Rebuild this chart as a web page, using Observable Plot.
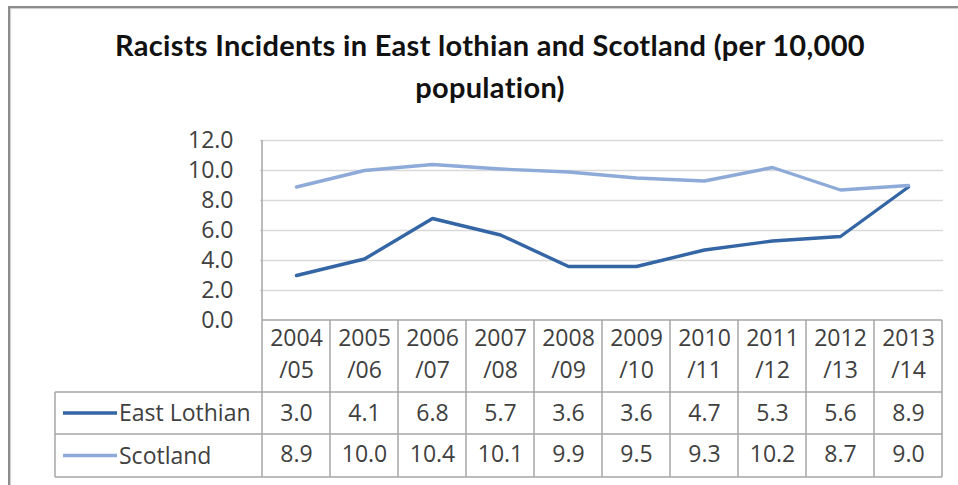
<!DOCTYPE html>
<html>
<head>
<meta charset="utf-8">
<script src="https://cdn.jsdelivr.net/npm/d3@7"></script>
<script src="https://cdn.jsdelivr.net/npm/@observablehq/plot@0.6"></script>
<style>
  html, body { margin: 0; padding: 0; background: #fff; }
  #wrap { position: relative; width: 958px; height: 485px; overflow: hidden; background: #fff; }
  #frame { position: absolute; left: 8px; top: 6px; width: 1200px; height: 1200px;
           border-left: 2px solid #8c8c8c; border-top: 2px solid #8c8c8c; box-shadow: 1px 1px 1px #ccc inset; }
  #title { position: absolute; left: 0; top: 24px; width: 980px; text-align: center;
           font-family: Lato, "Open Sans", sans-serif; font-weight: bold; font-size: 29px; letter-spacing: 0.3px;
           line-height: 42px; color: #111; }
  #chart { position: absolute; left: 0; top: 120px; }
</style>
</head>
<body>
<div id="wrap">
  <div id="frame"></div>
  <div id="title">Racists Incidents in East lothian and Scotland (per 10,000<br>population)</div>
  <div id="chart"></div>
</div>
<script>
const categories = ["2004/05","2005/06","2006/07","2007/08","2008/09","2009/10","2010/11","2011/12","2012/13","2013/14"];
const seriesNames = ["East Lothian", "Scotland"];
const eastLothian = [3.0, 4.1, 6.8, 5.7, 3.6, 3.6, 4.7, 5.3, 5.6, 8.9];
const scotland = [8.9, 10.0, 10.4, 10.1, 9.9, 9.5, 9.3, 10.2, 8.7, 9.0];
const yTicks = [0, 2, 4, 6, 8, 10, 12];
const seriesColors = ["#3465a4", "#8eaad8"];

const seriesValues = [eastLothian, scotland];
const rows = seriesNames.flatMap((s, k) => categories.map((c, i) => ({cat: c, series: s, value: seriesValues[k][i]})));

const textColor = "#404040";
const fontFamily = "'Open Sans', sans-serif";
const fs = 23;

const plot = Plot.plot({
  width: 958,
  height: 365,
  marginLeft: 260,
  marginRight: 15,
  marginTop: 20,
  marginBottom: 165,
  x: {type: "band", domain: categories, padding: 0, axis: null},
  y: {domain: [0, 12], axis: null},
  color: {domain: seriesNames, range: seriesColors},
  style: {fontFamily, fontSize: fs + "px", color: textColor, background: "transparent", overflow: "visible"},
  marks: [
    Plot.gridY(yTicks.filter(t => t > 0), {stroke: "#d9d9d9", strokeOpacity: 1, strokeWidth: 1.5}),
    Plot.axisY(yTicks, {tickSize: 0, tickPadding: 27, tickFormat: d3.format(".1f"), fontSize: fs, fill: textColor, label: null}),
    Plot.line(rows, {x: "cat", y: "value", z: "series", stroke: "series", strokeWidth: 3.4, strokeLinejoin: "round", strokeLinecap: "round"}),
    Plot.text(categories, {x: d => d, text: d => d.replace("/", "\n/"), frameAnchor: "bottom", lineAnchor: "top", dy: 3, lineHeight: 1.39, fontSize: fs, fill: textColor}),
    Plot.text(rows.filter(d => d.series === seriesNames[0]), {x: "cat", text: d => d.value.toFixed(1), frameAnchor: "bottom", dy: 100, fontSize: fs, fill: textColor}),
    Plot.text(rows.filter(d => d.series === seriesNames[1]), {x: "cat", text: d => d.value.toFixed(1), frameAnchor: "bottom", dy: 141, fontSize: fs, fill: textColor})
  ]
});

document.getElementById("chart").appendChild(plot);

// data-table frame and legend keys, positioned from the plot's scales
const xs = plot.scale("x");
const ys = plot.scale("y");
const bw = xs.bandwidth;
const x0 = xs.apply(categories[0]);
const xEnd = xs.apply(categories[categories.length - 1]) + bw;
const yTop = ys.apply(yTicks[yTicks.length - 1]);
const yBase = ys.apply(0);
const headerBottom = yBase + 72;
const rowBottoms = [yBase + 114, yBase + 157];
const legendLeft = x0 - 207;
const borderColor = "#a6a6a6";
const svg = d3.select(plot);
const g = svg.append("g").attr("stroke", borderColor).attr("stroke-width", 1.5).attr("fill", "none");
const seg = (xa, ya, xb, yb) => g.append("line").attr("x1", xa).attr("y1", ya).attr("x2", xb).attr("y2", yb);
seg(x0, yTop, x0, rowBottoms[1]);
categories.forEach(c => { const xr = xs.apply(c) + bw; seg(xr, yBase, xr, rowBottoms[1]); });
seg(x0, yBase, xEnd, yBase);
[headerBottom, ...rowBottoms].forEach(y => seg(legendLeft, y, xEnd, y));
seg(legendLeft, headerBottom, legendLeft, rowBottoms[1]);

const rowCenters = [(headerBottom + rowBottoms[0]) / 2, (rowBottoms[0] + rowBottoms[1]) / 2];
seriesNames.forEach((s, k) => {
  svg.append("line").attr("x1", legendLeft + 8).attr("x2", legendLeft + 62)
    .attr("y1", rowCenters[k]).attr("y2", rowCenters[k])
    .attr("stroke", seriesColors[k]).attr("stroke-width", 3.4);
  svg.append("text").attr("x", legendLeft + 64).attr("y", rowCenters[k]).attr("dy", "0.36em")
    .attr("text-anchor", "start")
    .attr("font-size", fs).attr("font-family", fontFamily).attr("fill", textColor).text(s);
});
</script>
</body>
</html>
